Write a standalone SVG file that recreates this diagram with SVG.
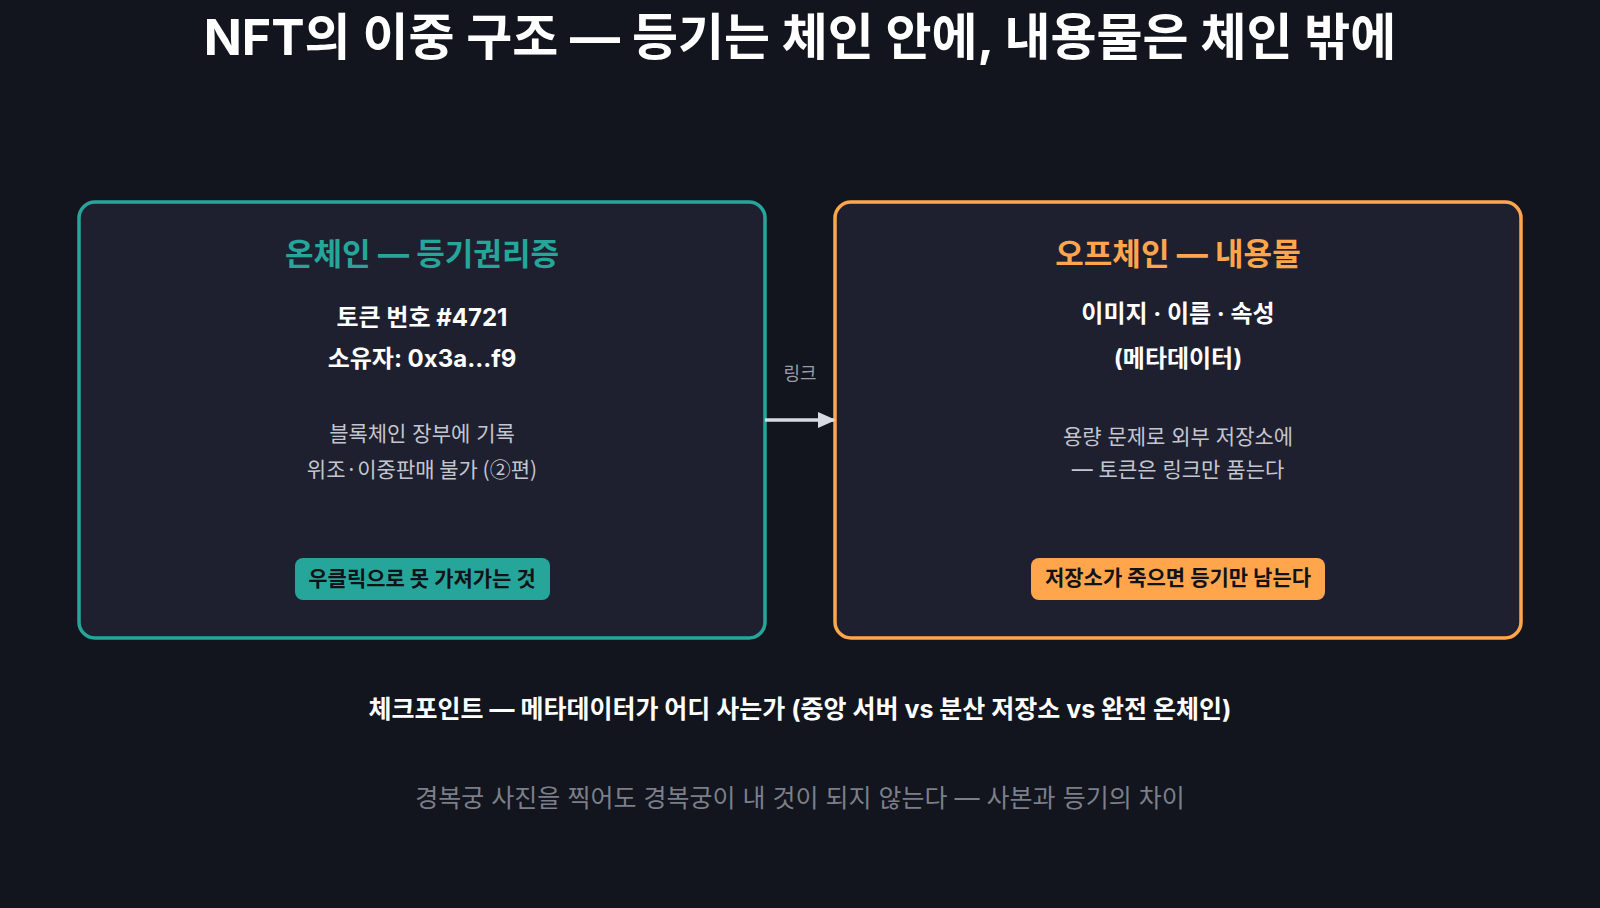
<svg xmlns="http://www.w3.org/2000/svg" width="1600" height="908" viewBox="0 0 1600 908">
<defs>
<style>
text{font-family:"Inter","Noto Sans CJK KR",sans-serif;text-anchor:middle}
.box{fill:#1e2030;stroke-width:3.5}
.h{font-size:31px;font-weight:700}
.w{fill:#ffffff;font-size:24px;font-weight:700}
.g{fill:#c4c6cf;font-size:21px}
.pill{font-size:21px;font-weight:700;fill:#111318}
</style>
<marker id="ah" markerWidth="18" markerHeight="16" refX="16" refY="8" orient="auto" markerUnits="userSpaceOnUse"><path d="M0,0 L18,8 L0,16 z" fill="#d8dae3"/></marker>
</defs>
<rect width="1600" height="908" fill="#12151d"/>
<text x="800" y="55" fill="#ffffff" font-size="50" font-weight="700">NFT의 이중 구조 — 등기는 체인 안에, 내용물은 체인 밖에</text>
<g id="onchain">
<rect class="box" x="79" y="202" width="686" height="436" rx="16" stroke="#26a69a"/>
<text class="h" x="422" y="265" fill="#26a69a">온체인 — 등기권리증</text>
<text class="w" x="422" y="326">토큰 번호 #4721</text>
<text class="w" x="422" y="367">소유자: 0x3a...f9</text>
<text class="g" x="422" y="441">블록체인 장부에 기록</text>
<text class="g" x="422" y="477" style="font-family:'Noto Sans CJK KR',sans-serif">위조·이중판매 불가 (②편)</text>
<rect x="295" y="558" width="255" height="42" rx="8" fill="#26a69a"/>
<text class="pill" x="422" y="586">우클릭으로 못 가져가는 것</text>
</g>
<g id="offchain">
<rect class="box" x="835" y="202" width="686" height="436" rx="16" stroke="#ffa64d"/>
<text class="h" x="1178" y="265" fill="#ffa64d">오프체인 — 내용물</text>
<text class="w" x="1178" y="322">이미지 · 이름 · 속성</text>
<text class="w" x="1178" y="367">(메타데이터)</text>
<text class="g" x="1178" y="444">용량 문제로 외부 저장소에</text>
<text class="g" x="1178" y="477">— 토큰은 링크만 품는다</text>
<rect x="1031" y="558" width="294" height="42" rx="8" fill="#ffa64d"/>
<text class="pill" x="1178" y="585">저장소가 죽으면 등기만 남는다</text>
</g>
<g id="connectors">
<line x1="765" y1="420" x2="834" y2="420" stroke="#d8dae3" stroke-width="3.5" marker-end="url(#ah)"/>
<text x="800" y="380" fill="#9a9ca6" font-size="18">링크</text>
</g>
<text x="800" y="718" fill="#ffffff" font-size="25" font-weight="700">체크포인트 — 메타데이터가 어디 사는가 (중앙 서버 vs 분산 저장소 vs 완전 온체인)</text>
<text x="800" y="807" fill="#7c7f8a" font-size="25">경복궁 사진을 찍어도 경복궁이 내 것이 되지 않는다 — 사본과 등기의 차이</text>
</svg>
